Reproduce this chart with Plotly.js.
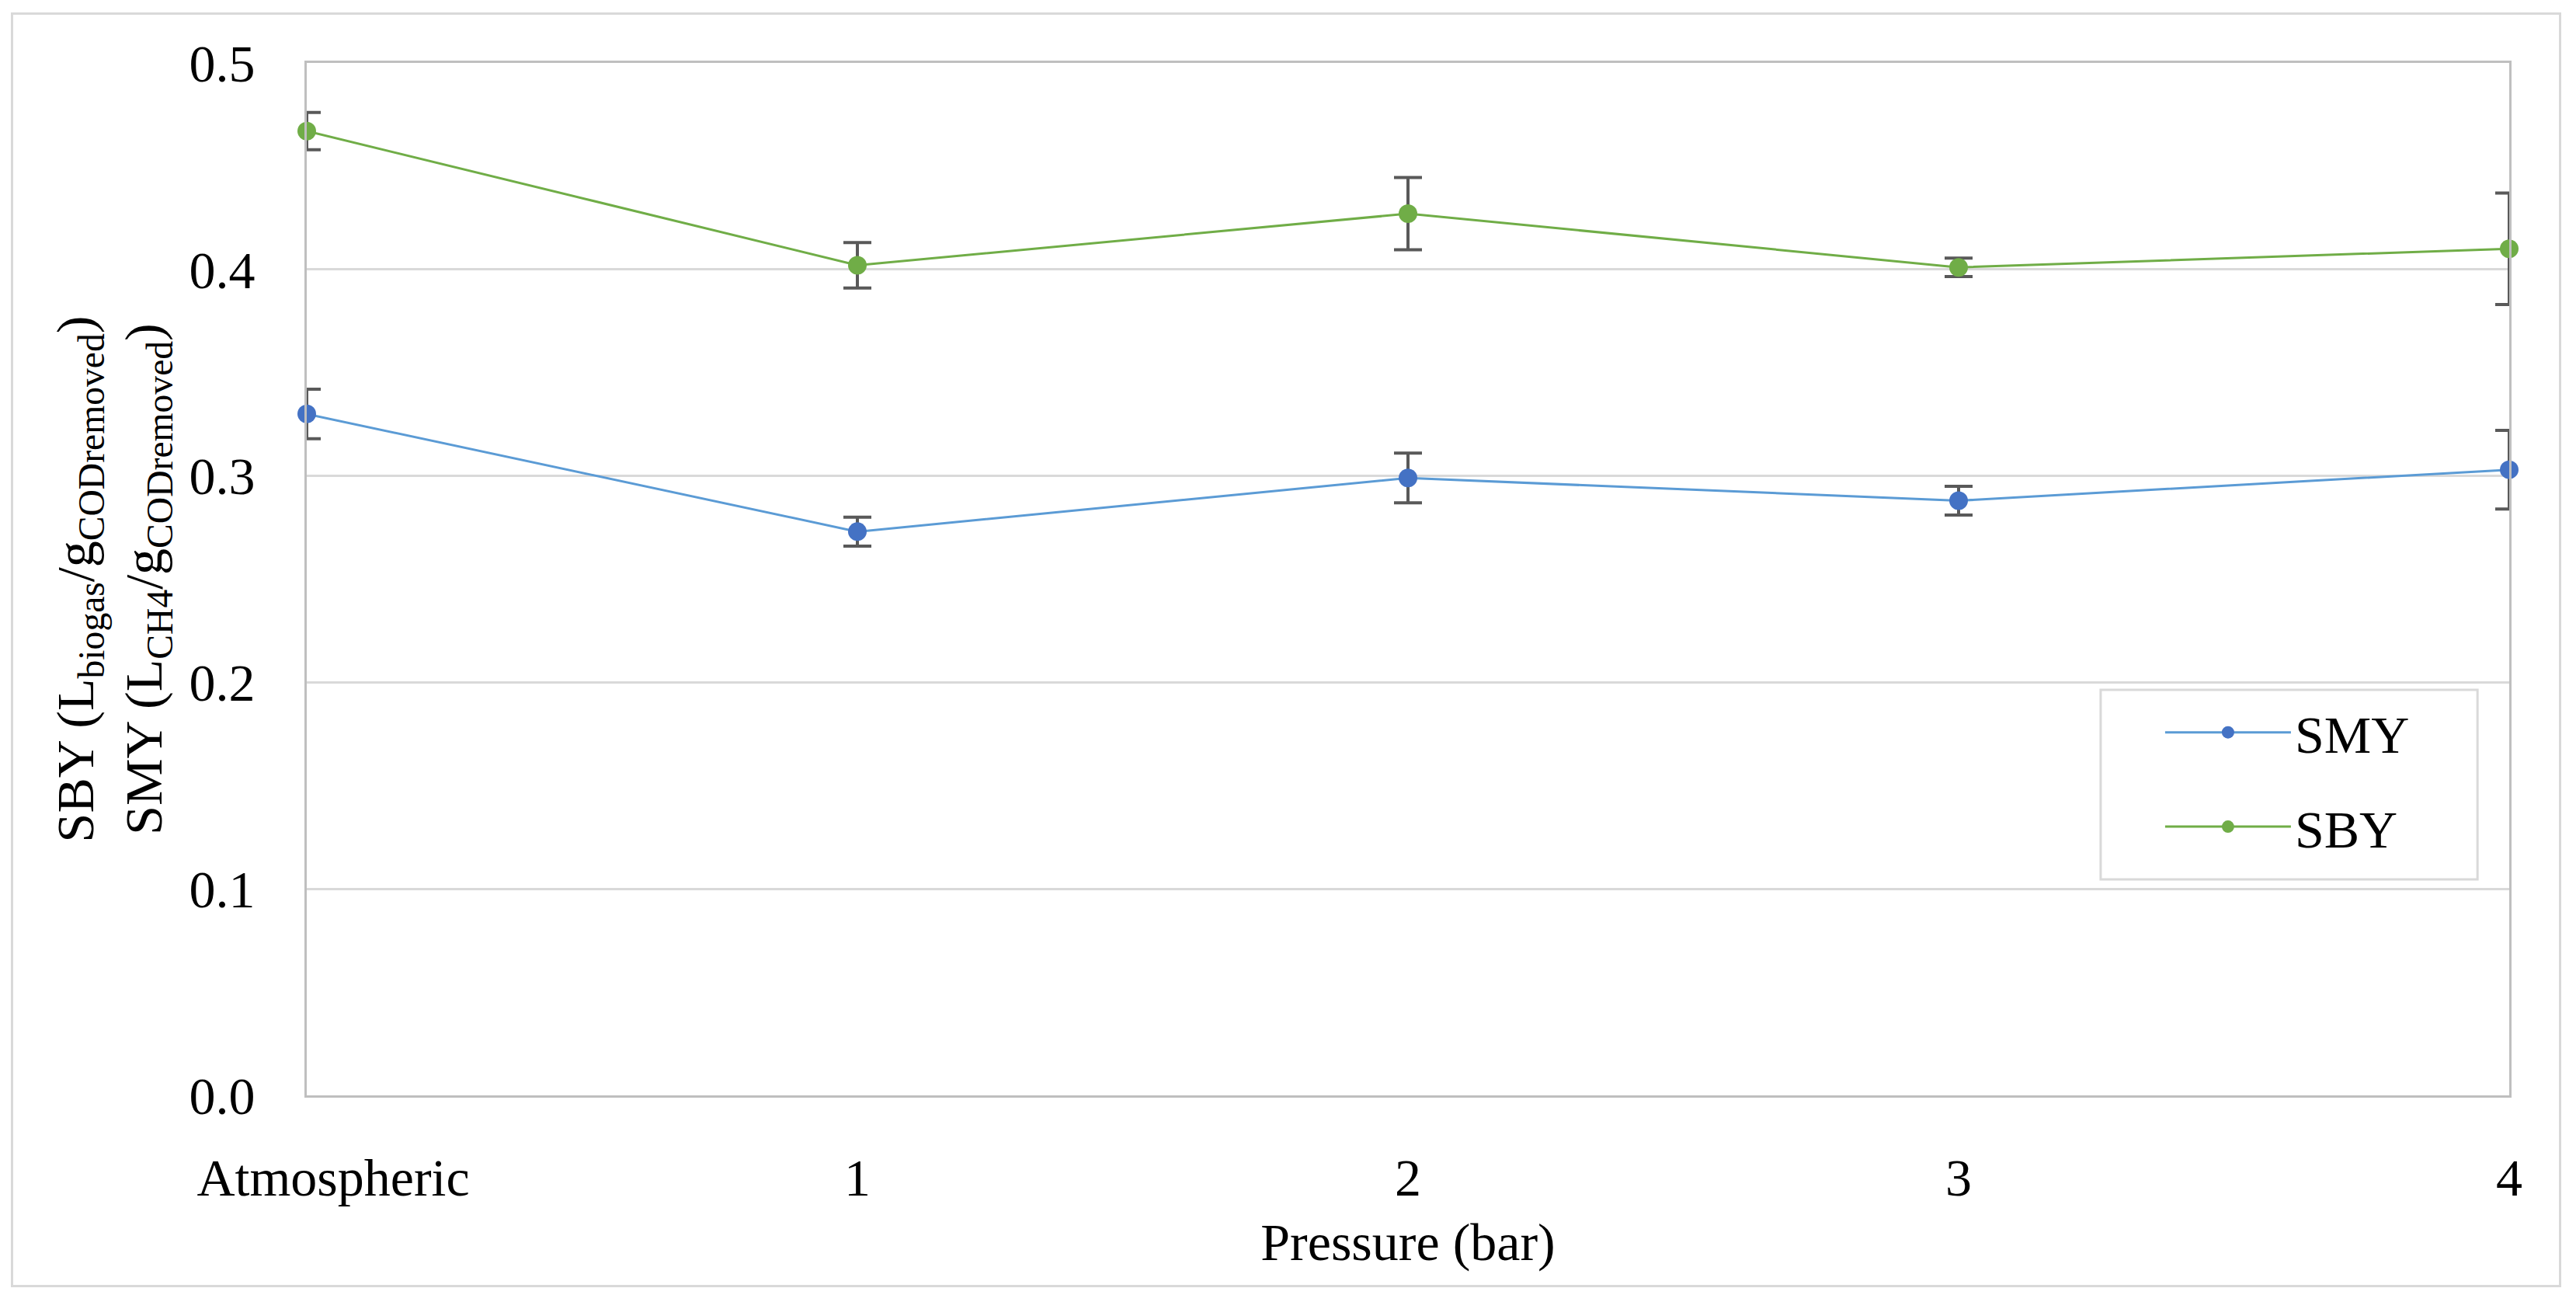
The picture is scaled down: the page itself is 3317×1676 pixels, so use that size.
<!DOCTYPE html>
<html>
<head>
<meta charset="utf-8">
<script src="https://cdn.plot.ly/plotly-3.0.1.min.js"></script>
<style>
  html, body { margin: 0; padding: 0; background: #ffffff; }
  #wrap { position: relative; width: 3317px; height: 1676px; }
  #chart { position: absolute; left: 0; top: 0; width: 3317px; height: 1676px; }
  #frame { position: absolute; left: 14px; top: 16px; width: 3284px; height: 1641px;
           border: 3px solid #d9d9d9; box-sizing: border-box; pointer-events: none; }
</style>
</head>
<body>
<div id="wrap">
  <div id="chart"></div>
  <div id="frame"></div>
</div>
<script>
// Data
const categories = ['Atmospheric', '1', '2', '3', '4'];
const categoryLabels = ['\u00a0\u00a0\u00a0\u00a0Atmospheric', '1', '2', '3', '4'];
const smyValues = [0.330, 0.273, 0.299, 0.288, 0.303];
const smyErrors = [0.012, 0.007, 0.012, 0.007, 0.019];
const sbyValues = [0.467, 0.402, 0.427, 0.401, 0.410];
const sbyErrors = [0.009, 0.011, 0.0175, 0.0045, 0.027];
const yTicks = [0, 0.1, 0.2, 0.3, 0.4, 0.5];

const FONT = '"Liberation Serif", "Times New Roman", serif';
const errStyle = { type: 'data', visible: true, color: '#595959', thickness: 4, width: 18 };

const traces = [
  {
    name: 'SMY', x: categories, y: smyValues, type: 'scatter', mode: 'lines+markers',
    line: { color: '#5B9BD5', width: 3 },
    marker: { color: '#4472C4', size: 24 },
    error_y: Object.assign({ array: smyErrors }, errStyle),
    cliponaxis: false, legendgroup: 'a'
  },
  {
    name: 'SBY', x: categories, y: sbyValues, type: 'scatter', mode: 'lines+markers',
    line: { color: '#70AD47', width: 3 },
    marker: { color: '#70AD47', size: 24 },
    error_y: Object.assign({ array: sbyErrors }, errStyle),
    cliponaxis: false, legendgroup: 'b'
  }
];

const layout = {
  width: 3317, height: 1676,
  paper_bgcolor: '#ffffff', plot_bgcolor: '#ffffff',
  margin: { l: 395, r: 86, t: 81, b: 266, pad: 0 },
  font: { family: FONT, size: 68, color: '#000000' },
  showlegend: true,
  legend: {
    x: 0.842, y: 0.3898, xanchor: 'left', yanchor: 'top',
    borderwidth: 0, bgcolor: 'rgba(0,0,0,0)',
    font: { family: FONT, size: 68, color: '#000000' },
    traceorder: 'grouped', tracegroupgap: 30, itemwidth: 162
  },
  shapes: [{
    type: 'rect', xref: 'paper', yref: 'paper',
    x0: 0.8145, x1: 0.9856, y0: 0.2092, y1: 0.3928,
    line: { color: '#d9d9d9', width: 3 }, fillcolor: '#ffffff', layer: 'above'
  }],
  xaxis: {
    type: 'category', categoryorder: 'array', categoryarray: categories,
    tickvals: categories, ticktext: categoryLabels,
    range: [0, 4], showgrid: false, zeroline: false,
    showline: true, linecolor: '#bfbfbf', linewidth: 3, mirror: true,
    ticks: 'outside', ticklen: 44, tickcolor: 'rgba(0,0,0,0)',
    tickfont: { family: FONT, size: 68, color: '#000000' },
    title: { text: 'Pressure (bar)', font: { family: FONT, size: 68, color: '#000000' }, standoff: 22 },
    automargin: false, fixedrange: true
  },
  yaxis: {
    range: [0, 0.5], tickvals: yTicks, tickformat: '.1f',
    showgrid: true, gridcolor: '#d9d9d9', gridwidth: 3, zeroline: false,
    showline: true, linecolor: '#bfbfbf', linewidth: 3, mirror: true,
    ticks: 'outside', ticklen: 50, tickcolor: 'rgba(0,0,0,0)',
    tickfont: { family: FONT, size: 68, color: '#000000' },
    title: {
      text: 'SBY (L<sub>biogas</sub>/g<sub>CODremoved</sub>)<br>SMY (L<sub>CH4</sub>/g<sub>CODremoved</sub>)',
      font: { family: FONT, size: 68, color: '#000000' }, standoff: 13
    },
    automargin: false, fixedrange: true
  }
};

Plotly.newPlot('chart', traces, layout, { staticPlot: true, displayModeBar: false });
</script>
</body>
</html>
